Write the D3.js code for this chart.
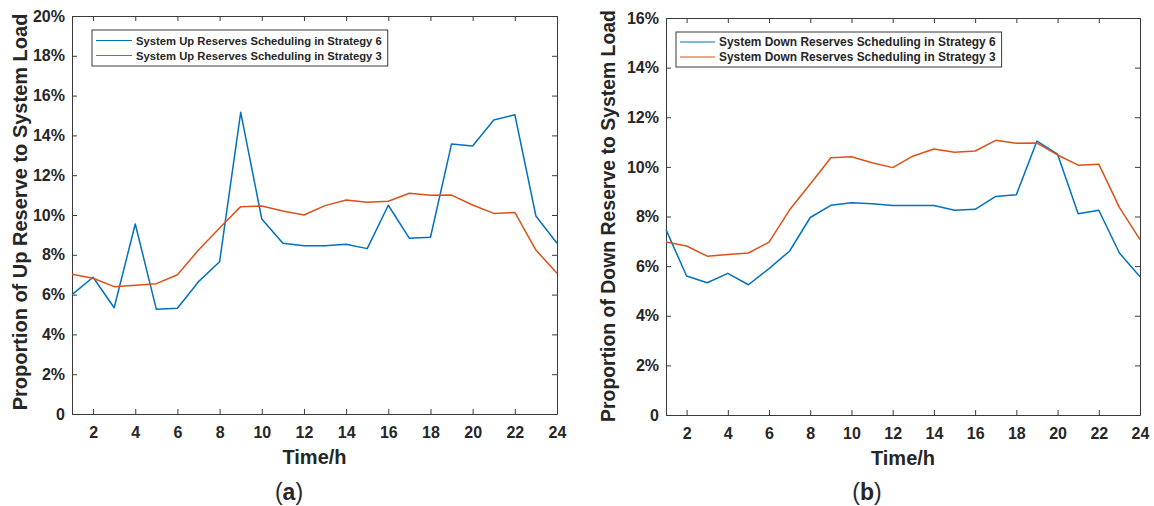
<!DOCTYPE html>
<html>
<head>
<meta charset="utf-8">
<script src="https://cdn.jsdelivr.net/npm/d3@7"></script>
<style>
  html, body { margin: 0; padding: 0; background: #fff; }
  svg { display: block; }
  text { font-family: "Liberation Sans", Arial, sans-serif; fill: #262626; }
</style>
</head>
<body>
<svg id="chart" width="1154" height="506"></svg>
<script>
// Hour of day
const hours = [1,2,3,4,5,6,7,8,9,10,11,12,13,14,15,16,17,18,19,20,21,22,23,24];

// Up reserves as a share of system load (%)
const upStrategy6 = [6.00,6.87,5.34,9.55,5.26,5.31,6.65,7.65,15.16,9.80,8.58,8.46,8.46,8.53,8.31,10.49,8.83,8.88,13.57,13.47,14.77,15.04,9.95,8.58];
const upStrategy3 = [7.02,6.82,6.40,6.47,6.55,7.00,8.24,9.35,10.42,10.45,10.20,10.00,10.47,10.75,10.64,10.69,11.09,10.99,11.00,10.50,10.08,10.13,8.24,7.07];

// Down reserves as a share of system load (%)
const downStrategy6 = [7.47,5.60,5.33,5.71,5.25,5.90,6.61,7.96,8.45,8.55,8.51,8.44,8.44,8.44,8.25,8.29,8.81,8.88,11.04,10.51,8.11,8.25,6.53,5.57];
const downStrategy3 = [6.97,6.81,6.40,6.47,6.53,6.97,8.27,9.31,10.37,10.41,10.17,9.97,10.44,10.72,10.59,10.64,11.07,10.95,10.96,10.48,10.07,10.11,8.37,7.07];

const xTicks = [2,4,6,8,10,12,14,16,18,20,22,24];
const upTicks = [0,2,4,6,8,10,12,14,16,18,20];
const downTicks = [0,2,4,6,8,10,12,14,16];

const upLegend = ["System Up Reserves Scheduling in Strategy 6", "System Up Reserves Scheduling in Strategy 3"];
const downLegend = ["System Down Reserves Scheduling in Strategy 6", "System Down Reserves Scheduling in Strategy 3"];

const BLUE = "#0072BD";
const ORANGE = "#D95319";
const AXIS = "#3a3a3a";

const svg = d3.select("#chart");

// Shrink or grow a text's font size so that its rendered width hits a target
function fitText(sel, target, base) {
  sel.attr("font-size", base);
  const w = sel.node().getComputedTextLength();
  sel.attr("font-size", (base * target / w).toFixed(2));
}

function panel(o) {
  const x = d3.scaleLinear().domain([1, 24]).range([o.left, o.right]);
  const y = d3.scaleLinear().domain([0, o.yMax]).range([o.bottom, o.top]);
  const g = svg.append("g");

  const fmt = v => v === 0 ? "0" : v + "%";

  // Bottom axis with inward ticks
  const bx = g.append("g").attr("transform", `translate(0,${o.bottom})`)
    .call(d3.axisBottom(x).tickValues(xTicks).tickSizeInner(-5).tickSizeOuter(0).tickPadding(12.5));
  // Top axis (ticks only)
  const tx = g.append("g").attr("transform", `translate(0,${o.top})`)
    .call(d3.axisTop(x).tickValues(xTicks).tickSizeInner(-5).tickSizeOuter(0).tickFormat(""));
  // Left axis with labels
  const ly = g.append("g").attr("transform", `translate(${o.left},0)`)
    .call(d3.axisLeft(y).tickValues(o.yTicks).tickSizeInner(-5).tickSizeOuter(0).tickPadding(7).tickFormat(fmt));
  // Right axis (ticks only)
  const ry = g.append("g").attr("transform", `translate(${o.right},0)`)
    .call(d3.axisRight(y).tickValues(o.yTicks).tickSizeInner(-5).tickSizeOuter(0).tickFormat(""));

  [bx, tx, ly, ry].forEach(a => {
    a.select(".domain").attr("stroke", AXIS).attr("stroke-width", 1);
    a.selectAll(".tick line").attr("stroke", AXIS).attr("stroke-width", 1);
    a.selectAll("text")
      .attr("font-family", '"Liberation Sans", Arial, sans-serif')
      .attr("font-weight", "bold").attr("font-size", 16).attr("fill", "#262626");
  });

  // Series lines
  const line = d3.line().x((d, i) => x(hours[i])).y(d => y(d));
  g.append("path").datum(o.s6).attr("d", line)
    .attr("fill", "none").attr("stroke", BLUE).attr("stroke-width", 1.5).attr("stroke-linejoin", "round");
  g.append("path").datum(o.s3).attr("d", line)
    .attr("fill", "none").attr("stroke", ORANGE).attr("stroke-width", 1.5).attr("stroke-linejoin", "round");

  // Legend
  const lg = g.append("g");
  const box = lg.append("rect")
    .attr("x", o.lgX).attr("y", o.lgY).attr("height", o.lgH)
    .attr("fill", "#fff").attr("stroke", AXIS).attr("stroke-width", 1);
  const rows = [[o.legend[0], BLUE], [o.legend[1], ORANGE]];
  let maxW = 0;
  rows.forEach((r, i) => {
    const cy = o.lgY + o.lgH / 2 + (i === 0 ? -7.5 : 7.5);
    lg.append("line")
      .attr("x1", o.lgX + 4).attr("x2", o.lgX + 4 + o.lgLine)
      .attr("y1", cy).attr("y2", cy)
      .attr("stroke", r[1]).attr("stroke-width", 1.2);
    const t = lg.append("text")
      .attr("x", o.lgX + 8 + o.lgLine).attr("y", cy)
      .attr("dominant-baseline", "central")
      .attr("font-weight", "bold").text(r[0]);
    fitText(t, o.lgTextW, 11);
    maxW = Math.max(maxW, t.node().getComputedTextLength());
  });
  box.attr("width", 8 + o.lgLine + maxW + 6);

  // Axis titles
  g.append("text")
    .attr("x", (o.left + o.right) / 2).attr("y", o.bottom + 50)
    .attr("text-anchor", "middle").attr("font-weight", "bold").attr("font-size", 20)
    .text("Time/h");
  const yl = g.append("text")
    .attr("transform", `translate(${o.yLabelX},${o.yLabelY}) rotate(-90)`)
    .attr("text-anchor", "middle").attr("dominant-baseline", "central")
    .attr("font-weight", "bold").text(o.yLabel);
  fitText(yl, o.yLabelW, 20);

  // Panel tag
  const tag = g.append("text")
    .attr("x", o.tagX).attr("y", 500)
    .attr("text-anchor", "middle")
    .attr("font-family", '"Liberation Serif", "DejaVu Serif", serif')
    .attr("font-size", 23);
  tag.append("tspan").text("(");
  tag.append("tspan").attr("font-weight", "bold").text(o.tag);
  tag.append("tspan").text(")");
}

panel({
  left: 72, right: 557, top: 16, bottom: 414, yMax: 20, yTicks: upTicks,
  s6: upStrategy6, s3: upStrategy3, legend: upLegend,
  lgX: 92, lgY: 30, lgH: 36, lgLine: 36, lgTextW: 246,
  yLabel: "Proportion of Up Reserve to System Load", yLabelX: 20, yLabelY: 212, yLabelW: 397,
  tag: "a", tagX: 289
});

panel({
  left: 666, right: 1140, top: 18, bottom: 415, yMax: 16, yTicks: downTicks,
  s6: downStrategy6, s3: downStrategy3, legend: downLegend,
  lgX: 676, lgY: 32, lgH: 35, lgLine: 35, lgTextW: 277,
  yLabel: "Proportion of Down Reserve to System Load", yLabelX: 608, yLabelY: 216, yLabelW: 412,
  tag: "b", tagX: 867
});
</script>
</body>
</html>
